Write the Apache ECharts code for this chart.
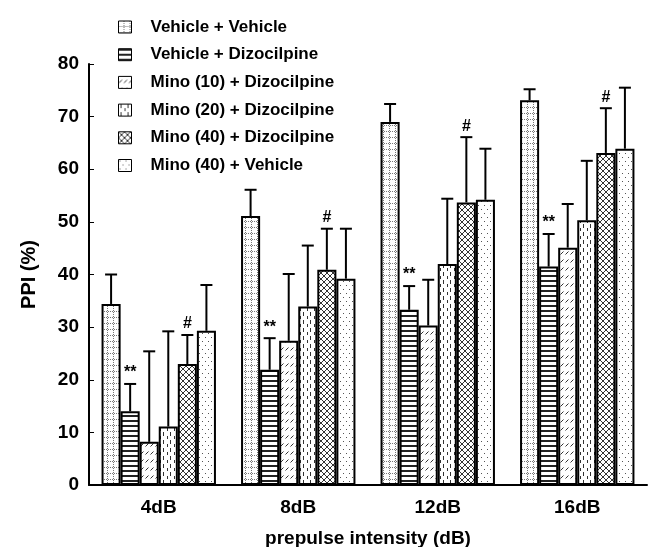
<!DOCTYPE html>
<html>
<head>
<meta charset="utf-8">
<script src="https://cdn.jsdelivr.net/npm/echarts@6/dist/echarts.min.js"></script>
<style>
  html, body { margin: 0; padding: 0; background: #fff; }
  #chart { width: 654px; height: 547px; }
</style>
</head>
<body>
<div id="chart"></div>
<script>
// data
const categories = ['4dB', '8dB', '12dB', '16dB'];
const groupNames = [
  'Vehicle + Vehicle',
  'Vehicle + Dizocilpine',
  'Mino (10) + Dizocilpine',
  'Mino (20) + Dizocilpine',
  'Mino (40) + Dizocilpine',
  'Mino (40) + Vehicle'
];
const vehVeh = [34.4, 51.1, 69.0, 73.1];
const vehDizo = [14.0, 21.9, 33.3, 41.5];
const mino10Dizo = [8.2, 27.4, 30.3, 45.1];
const mino20Dizo = [11.1, 33.9, 42.0, 50.3];
const mino40Dizo = [23.0, 40.9, 53.7, 63.1];
const mino40Veh = [29.3, 39.2, 54.2, 63.9];

const vehVehErr = [5.6, 5.0, 3.4, 2.1];
const vehDizoErr = [5.2, 6.0, 4.5, 6.2];
const mino10DizoErr = [17.2, 12.7, 8.7, 8.3];
const mino20DizoErr = [18.1, 11.6, 12.4, 11.3];
const mino40DizoErr = [5.5, 7.8, 12.4, 8.5];
const mino40VehErr = [8.7, 9.5, 9.7, 11.6];

const sigMarks = ['', '**', '', '', '#', ''];
const yTicks = { min: 0, max: 80, interval: 10 };

const means = [vehVeh, vehDizo, mino10Dizo, mino20Dizo, mino40Dizo, mino40Veh];
const errs = [vehVehErr, vehDizoErr, mino10DizoErr, mino20DizoErr, mino40DizoErr, mino40VehErr];

// fill patterns
function makePattern(w, h, draw) {
  const c = document.createElement('canvas');
  c.width = w; c.height = h;
  const ctx = c.getContext('2d');
  ctx.fillStyle = '#fff';
  ctx.fillRect(0, 0, w, h);
  draw(ctx);
  return { image: c, repeat: 'repeat' };
}
const patterns = [
  makePattern(6, 6, ctx => {
    ctx.fillStyle = '#777';
    for (let i = 0; i < 6; i += 2) { ctx.fillRect(5, i, 1, 1); ctx.fillRect(i, 5, 1, 1); }
  }),
  makePattern(4, 5, ctx => {
    ctx.fillStyle = '#222';
    ctx.fillRect(0, 0, 4, 2);
  }),
  makePattern(5, 8, ctx => {
    ctx.strokeStyle = '#333';
    ctx.lineWidth = 1;
    ctx.beginPath(); ctx.moveTo(0.5, 6.5); ctx.lineTo(3.5, 3.5); ctx.stroke();
  }),
  makePattern(7, 8, ctx => {
    ctx.fillStyle = '#333';
    ctx.fillRect(2, 0, 1, 4);
    ctx.fillRect(6, 4, 1, 3);
  }),
  makePattern(6, 6, ctx => {
    ctx.strokeStyle = '#333';
    ctx.lineWidth = 1;
    ctx.beginPath();
    ctx.moveTo(0, 0); ctx.lineTo(6, 6);
    ctx.moveTo(6, 0); ctx.lineTo(0, 6);
    ctx.stroke();
  }),
  makePattern(6, 8, ctx => {
    ctx.fillStyle = '#555';
    ctx.fillRect(1, 1, 1, 1);
    ctx.fillRect(4, 5, 1, 1);
  })
];

const gapPct = 18;
const errData = [];
const errMarks = [];
means.forEach((arr, k) => {
  arr.forEach((v, c) => {
    errData.push([c, k, v, errs[k][c]]);
    errMarks.push(sigMarks[k]);
  });
});

function renderErr(params, api) {
  const cat = api.value(0), k = api.value(1), mean = api.value(2), err = api.value(3);
  const band = api.size([1, 0])[0];
  const groupW = band * (1 - gapPct / 100);
  const barW = groupW / 6;
  const cx = api.coord([cat, 0])[0] - groupW / 2 + barW * (k + 0.5);
  const yTop = api.coord([cat, mean])[1];
  const yCap = api.coord([cat, mean + err])[1];
  const style = { stroke: '#000', lineWidth: 2 };
  const children = [
    { type: 'line', shape: { x1: cx, y1: yTop, x2: cx, y2: yCap }, style: style },
    { type: 'line', shape: { x1: cx - 6, y1: yCap, x2: cx + 6, y2: yCap }, style: style }
  ];
  const mark = errMarks[params.dataIndex];
  if (mark) {
    children.push({
      type: 'text',
      style: {
        text: mark, x: cx, y: yCap - 3,
        align: 'center', verticalAlign: 'bottom',
        font: 'bold 16px "Liberation Sans", Arial', fill: '#000'
      }
    });
  }
  return { type: 'group', children: children };
}

const chart = echarts.init(document.getElementById('chart'), null, { renderer: 'canvas' });

const series = groupNames.map((name, k) => ({
  name: name,
  type: 'bar',
  data: means[k],
  barGap: '0%',
  barCategoryGap: gapPct + '%',
  itemStyle: { color: patterns[k], borderColor: '#000', borderWidth: 2 }
}));
series.push({
  type: 'custom',
  renderItem: renderErr,
  data: errData,
  encode: { x: 0, y: 2 },
  z: 5,
  silent: true
});

chart.setOption({
  animation: false,
  grid: { left: 89, right: 7, top: 64, bottom: 62, outerBoundsMode: 'none' },
  legend: {
    orient: 'vertical',
    left: 113,
    top: 13,
    icon: 'rect',
    itemWidth: 13,
    itemHeight: 12,
    itemGap: 9.7,
    data: groupNames,
    itemStyle: { borderColor: '#000', borderWidth: 1 },
    textStyle: {
      fontFamily: 'Liberation Sans', fontWeight: 'bold', fontSize: 17,
      lineHeight: 18, color: '#000', padding: [0, 0, 0, 14]
    }
  },
  xAxis: {
    type: 'category',
    data: categories,
    name: 'prepulse intensity (dB)',
    nameLocation: 'middle',
    nameGap: 44,
    nameTextStyle: { fontFamily: 'Liberation Sans', fontWeight: 'bold', fontSize: 19, color: '#000' },
    axisLine: { lineStyle: { color: '#000', width: 2 } },
    axisTick: { inside: true, length: 5, lineStyle: { color: '#000' } },
    axisLabel: { fontFamily: 'Liberation Sans', fontWeight: 'bold', fontSize: 19, color: '#000', margin: 13 }
  },
  yAxis: {
    type: 'value',
    min: yTicks.min,
    max: yTicks.max,
    interval: yTicks.interval,
    name: 'PPI (%)',
    nameLocation: 'middle',
    nameGap: 50,
    nameRotate: 90,
    nameTextStyle: { fontFamily: 'Liberation Sans', fontWeight: 'bold', fontSize: 20, color: '#000' },
    splitLine: { show: false },
    axisLine: { show: true, lineStyle: { color: '#000', width: 2 } },
    axisTick: { show: true, inside: true, length: 5, lineStyle: { color: '#000' } },
    axisLabel: { fontFamily: 'Liberation Sans', fontWeight: 'bold', fontSize: 19, color: '#000', margin: 10 }
  },
  series: series
});
</script>
</body>
</html>
